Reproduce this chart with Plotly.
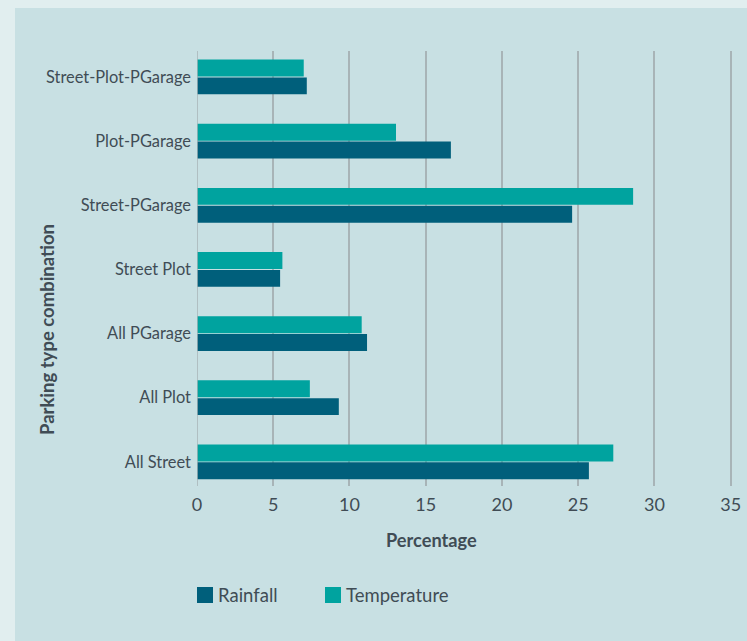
import plotly.graph_objects as go

categories = ["All Street", "All Plot", "All PGarage", "Street Plot",
              "Street-PGarage", "Plot-PGarage", "Street-Plot-PGarage"]
rainfall = [25.7, 9.3, 11.15, 5.45, 24.6, 16.65, 7.2]
temperature = [27.3, 7.4, 10.8, 5.6, 28.6, 13.05, 7.0]
x_ticks = [0, 5, 10, 15, 20, 25, 30, 35]
series_names = ["Rainfall", "Temperature"]

C_RAIN = "#005f7b"
C_TEMP = "#00a39f"
PANEL = "#c8e0e3"
OUTER = "#e1eeef"
TXT = "#404c55"
GRID = "#a8b4b7"
FONT = "Lato"

# plot area in pixels
L, R, T, B = 197, 733, 51, 486
W, H = 747, 641
PW, PH = R - L, B - T
X_MAX = 35.15


def px(x):
    return (x - L) / PW


def py(y):
    return (B - y) / PH


fig = go.Figure()
fig.add_trace(go.Bar(y=categories, x=rainfall, orientation="h", name=series_names[0],
                     marker=dict(color=C_RAIN, line=dict(width=0)), showlegend=False))
fig.add_trace(go.Bar(y=categories, x=temperature, orientation="h", name=series_names[1],
                     marker=dict(color=C_TEMP, line=dict(width=0)), showlegend=False))

shapes = [dict(type="rect", xref="paper", yref="paper", x0=px(15), x1=px(W + 10),
               y0=py(H + 10), y1=py(8), fillcolor=PANEL, line=dict(width=0), layer="below")]
annotations = [
    dict(text="<b>Percentage</b>", xref="paper", yref="paper", x=px(431), y=py(540),
         xanchor="center", yanchor="middle", showarrow=False, font=dict(size=18.2, color=TXT)),
    dict(text="<b>Parking type combination</b>", xref="paper", yref="paper",
         x=px(47), y=py(330), xanchor="center", yanchor="middle",
         textangle=-90, showarrow=False, font=dict(size=18.5, color=TXT)),
]
# custom legend
for name, col, x0 in [(series_names[0], C_RAIN, 197), (series_names[1], C_TEMP, 325)]:
    shapes.append(dict(type="rect", xref="paper", yref="paper", x0=px(x0), x1=px(x0 + 16),
                       y0=py(603), y1=py(587), fillcolor=col, line=dict(width=0)))
    annotations.append(dict(text=name, xref="paper", yref="paper", x=px(x0 + 19), y=py(595),
                            xanchor="left", yanchor="middle", showarrow=False,
                            font=dict(size=18.5, color=TXT)))

fig.update_layout(
    width=W, height=H,
    margin=dict(l=L, r=W - R, t=T, b=H - B, autoexpand=False),
    paper_bgcolor=OUTER, plot_bgcolor=PANEL,
    barmode="group", bargap=0.444, bargroupgap=0.05,
    font=dict(family=FONT, size=16, color=TXT),
    showlegend=False,
    shapes=shapes,
    annotations=annotations,
)
fig.update_xaxes(range=[0, X_MAX], tickvals=x_ticks, showgrid=True, gridcolor=GRID,
                 gridwidth=1.5, zeroline=False, showline=False, ticks="", automargin=False,
                 ticklabelstandoff=6, tickfont=dict(size=18, color=TXT))
fig.update_yaxes(type="category", range=[-0.376, 6.405], showgrid=False, zeroline=False,
                 showline=False, ticks="", ticklabelstandoff=5, automargin=False,
                 tickfont=dict(size=16.4, color=TXT))
fig.add_shape(type="line", xref="x", yref="paper", x0=0, x1=0, y0=0, y1=1,
              line=dict(color=GRID, width=1.5))

fig.write_html("out.html")
